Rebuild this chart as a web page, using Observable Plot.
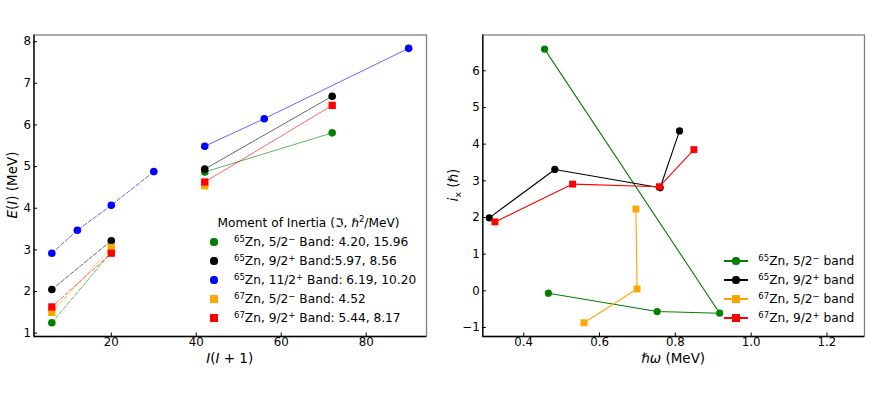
<!DOCTYPE html>
<html><head><meta charset="utf-8">
<script src="https://cdn.jsdelivr.net/npm/d3@7"></script>
<script src="https://cdn.jsdelivr.net/npm/@observablehq/plot@0.6"></script>
<style>
body{margin:0;background:#fff;font-family:"DejaVu Sans",sans-serif;color:#000;}
#wrap{position:relative;width:871px;height:401px;overflow:hidden;background:#fff;}
.panel{position:absolute;top:0;}
.lbl{position:absolute;font-size:13.5px;white-space:nowrap;transform:translate(-50%,-50%);}
.lbl.rot{transform:translate(-50%,-50%) rotate(-90deg);}
.lt{position:absolute;font-size:12.2px;white-space:nowrap;transform:translateY(-50%);line-height:1;}
.ttl{position:absolute;font-size:12.2px;white-space:nowrap;transform:translate(-50%,-50%);line-height:1;}
.mk{position:absolute;}
sup{font-size:70%;vertical-align:0;position:relative;top:-0.5em;line-height:0;}
sub{font-size:70%;vertical-align:0;position:relative;top:0.35em;line-height:0;}
</style></head><body><div id="wrap"></div>
<script>
// ---------- data ----------
const bands = ["65Zn 5/2-", "65Zn 9/2+", "65Zn 11/2+", "67Zn 5/2-", "67Zn 9/2+"];
const bandColors = ["green", "black", "blue", "orange", "red"];
const bandSymbols = ["circle", "circle", "circle", "square", "square"];
const isoLabels = ["65", "65", "65", "67", "67"];
const spinLabels = ["5/2\u2212", "9/2+", "11/2+", "5/2\u2212", "9/2+"];
const moiLabels = [" Band: 4.20, 15.96", " Band:5.97, 8.56", " Band: 6.19, 10.20", " Band: 4.52", " Band: 5.44, 8.17"];

// left panel: E(I) vs I(I+1); low part dashed, high part solid
const lowII = [[6, 20], [6, 20], [6, 12, 20, 30], [6, 20], [6, 20]];
const lowE = [[1.25, 2.95], [2.05, 3.22], [2.92, 3.47, 4.07, 4.88], [1.50, 3.06], [1.63, 2.92]];
const highII = [[42, 72], [42, 72], [42, 56, 90], [42], [42, 72]];
const highE = [[4.87, 5.81], [4.94, 6.69], [5.49, 6.15, 7.84], [4.54], [4.63, 6.47]];
const leftXTicks = [20, 40, 60, 80];
const leftYTicks = [1, 2, 3, 4, 5, 6, 7, 8];

// right panel: aligned spin i_x vs hbar*omega (bands 0,1,3,4)
const rightBands = [0, 1, 3, 4];
const hw = [[0.465, 0.752, 0.917, 0.455], [0.309, 0.482, 0.760, 0.811], [0.559, 0.699, 0.696], [0.324, 0.529, 0.758, 0.849]];
const ix = [[-0.065, -0.565, -0.61, 6.59], [1.99, 3.31, 2.81, 4.36], [-0.87, 0.05, 2.23], [1.88, 2.91, 2.84, 3.85]];
const rightXTicks = [0.4, 0.6, 0.8, 1.0, 1.2];
const rightYTicks = [-1, 0, 1, 2, 3, 4, 5, 6];

// ---------- helpers ----------
const wrap = document.getElementById("wrap");
const pts = (xs, ys) => xs.map((x, i) => ({x, y: ys[i]}));

function frameMarks(xd, yd, xTicks, yTicks, xFmt, yFmt) {
  return [
    Plot.frame({stroke: "#808080", strokeWidth: 1.3}),
    Plot.ruleX([xd[0]], {stroke: "#000", strokeWidth: 1.3}),
    Plot.ruleY([yd[0]], {stroke: "#000", strokeWidth: 1.3}),
    Plot.axisX({ticks: xTicks, tickFormat: xFmt, tickSize: -3.5, tickPadding: 4.5, label: null, fontSize: 11.8}),
    Plot.axisY({ticks: yTicks, tickFormat: yFmt, tickSize: -3.5, tickPadding: 6.5, label: null, fontSize: 11.8})
  ];
}

function addPlot(svg, left) {
  svg.classList.add("panel");
  svg.style.left = left + "px";
  wrap.appendChild(svg);
}

// ---------- left panel ----------
const lxd = [1.8, 94.2], lyd = [0.92, 8.16];
const leftMarks = [];
bands.forEach((b, i) => {
  const lo = pts(lowII[i], lowE[i]), hi = pts(highII[i], highE[i]);
  leftMarks.push(
    Plot.line(lo, {x: "x", y: "y", stroke: bandColors[i], strokeOpacity: 0.6, strokeWidth: 1, strokeDasharray: "4,2"}),
    Plot.dot(lo, {x: "x", y: "y", symbol: bandSymbols[i], r: bandSymbols[i] === "square" ? 4.1 : 3.8, fill: bandColors[i], stroke: "none"}),
    Plot.line(hi, {x: "x", y: "y", stroke: bandColors[i], strokeOpacity: 0.6, strokeWidth: 1}),
    Plot.dot(hi, {x: "x", y: "y", symbol: bandSymbols[i], r: bandSymbols[i] === "square" ? 4.1 : 3.8, fill: bandColors[i], stroke: "none"})
  );
});
addPlot(Plot.plot({
  width: 440, height: 401, marginLeft: 33.5, marginRight: 14, marginTop: 34.5, marginBottom: 65,
  style: {fontFamily: "DejaVu Sans", fontSize: "11.8px", color: "#000", background: "transparent", overflow: "visible"},
  x: {domain: lxd}, y: {domain: lyd},
  marks: [...leftMarks, ...frameMarks(lxd, lyd, leftXTicks, leftYTicks, d3.format("d"), d3.format("d"))]
}), 0);

// ---------- right panel ----------
const rxd = [0.292, 1.299], ryd = [-1.245, 6.976];
const rightMarks = [];
rightBands.forEach((b, k) => {
  const p = pts(hw[k], ix[k]);
  rightMarks.push(
    Plot.line(p, {x: "x", y: "y", stroke: bandColors[b], strokeWidth: 1.1}),
    Plot.dot(p, {x: "x", y: "y", symbol: bandSymbols[b], r: bandSymbols[b] === "square" ? 3.9 : 3.6, fill: bandColors[b], stroke: "none"})
  );
});
addPlot(Plot.plot({
  width: 431, height: 401, marginLeft: 42.3, marginRight: 7, marginTop: 34.5, marginBottom: 65,
  style: {fontFamily: "DejaVu Sans", fontSize: "11.8px", color: "#000", background: "transparent", overflow: "visible"},
  x: {domain: rxd}, y: {domain: ryd},
  marks: [...rightMarks, ...frameMarks(rxd, ryd, rightXTicks, rightYTicks, d3.format(".1f"), d3.format("d"))]
}), 440);

// ---------- axis labels ----------
function html(cls, x, y, inner) {
  const d = document.createElement("div");
  d.className = cls; d.style.left = x + "px"; d.style.top = y + "px"; d.innerHTML = inner;
  wrap.appendChild(d); return d;
}
html("lbl rot", 12, 185, "<i>E</i>(<i>I</i>) (MeV)");
html("lbl", 229.7, 358, "<i>I</i>(<i>I</i> + 1)");
html("lbl rot", 452.5, 185, "<i>i</i><sub>x</sub> (\u210F)");
html("lbl", 673.2, 358, "\u210F<i>\u03C9</i> (MeV)");

// ---------- legends ----------
function marker(cx, cy, i, size) {
  const d = document.createElement("div");
  d.className = "mk";
  d.style.left = (cx - size / 2) + "px"; d.style.top = (cy - size / 2) + "px";
  d.style.width = size + "px"; d.style.height = size + "px";
  d.style.background = bandColors[i];
  if (bandSymbols[i] === "circle") d.style.borderRadius = "50%";
  wrap.appendChild(d);
}
html("ttl", 308.5, 222.7, "Moment of Inertia (\u2111, \u210F<sup>2</sup>/MeV)");
bands.forEach((b, i) => {
  const y = 242 + i * 19;
  marker(214, y, i, 7.2);
  html("lt", 234, y, `<sup>${isoLabels[i]}</sup>Zn, ${spinLabels[i].replace(/([+\u2212])$/, "<sup>$1</sup>")}${moiLabels[i]}`);
});
rightBands.forEach((b, k) => {
  const y = 261 + k * 19;
  const ln = document.createElement("div");
  ln.style.cssText = `position:absolute;left:724px;top:${y - 0.75}px;width:24px;height:1.5px;background:${bandColors[b]};`;
  wrap.appendChild(ln);
  marker(736, y, b, 7.2);
  html("lt", 758.3, y, `<sup>${isoLabels[b]}</sup>Zn, ${spinLabels[b].replace(/([+\u2212])$/, "<sup>$1</sup>")} band`);
});
</script></body></html>
